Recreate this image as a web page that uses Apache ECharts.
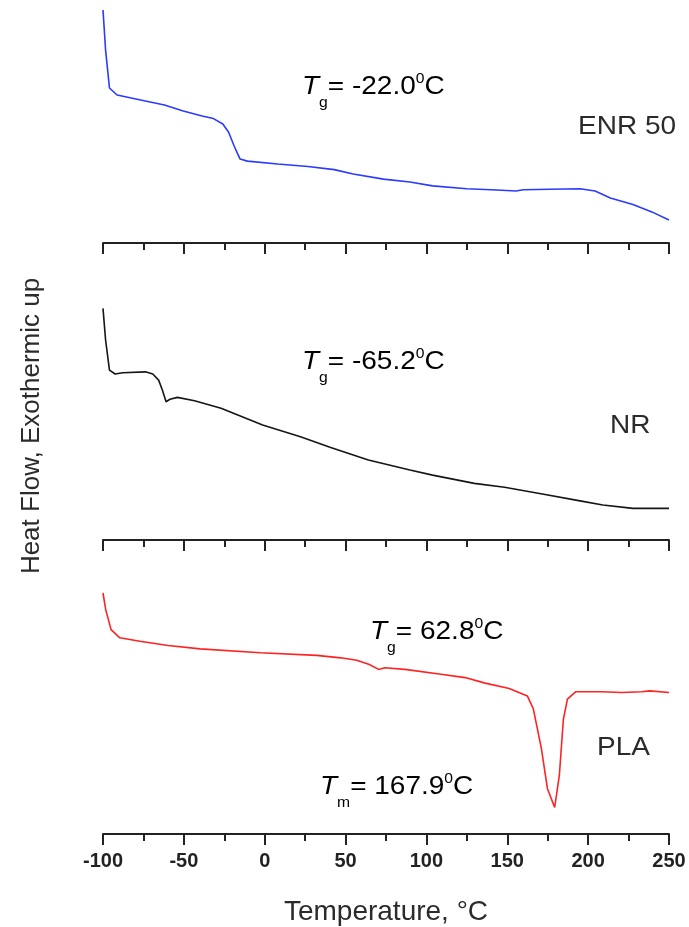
<!DOCTYPE html>
<html>
<head>
<meta charset="utf-8">
<script src="https://cdn.jsdelivr.net/npm/echarts@6/dist/echarts.min.js"></script>
<style>
html,body{margin:0;padding:0;background:#fff;}
#chart{width:689px;height:927px;}
</style>
</head>
<body>
<div id="chart"></div>
<script>
// Temperature (°C) and heat flow (arbitrary units, exothermic up) for each sample
const enrT = [-100, -98.4, -96, -91.3, -73.8, -62, -50.4, -38.7, -31.7, -25.9, -22.4, -18.9, -15.3, -10.7, 8, 26.7, 43, 54.7, 73.4, 89.8, 103.8, 124.9, 143.6, 155.3, 159.9, 176.3, 195, 204.3, 213.7, 227.7, 239.4, 250];
const enrHF = [95.9, 79.4, 63.8, 60.9, 58.4, 56.8, 54.3, 52.3, 51.2, 49.0, 45.7, 39.9, 34.6, 33.7, 32.5, 31.5, 30.2, 28.4, 26.3, 25.1, 23.5, 22.3, 21.8, 21.4, 21.9, 22.1, 22.3, 21.4, 18.5, 15.8, 12.8, 9.5];

const nrT = [-100, -98.4, -96, -92.5, -87.8, -73.8, -69.2, -65.6, -63.3, -61, -58.6, -54, -43.4, -27, -1.3, 22.1, 40.8, 64.1, 89.8, 103.8, 129.6, 148.3, 171.7, 195, 209.1, 227.7, 250];
const nrHF = [95.3, 82.3, 69.9, 68.3, 68.8, 69.2, 68.3, 65.8, 61.7, 56.9, 57.9, 58.7, 57.3, 54.2, 47.3, 42.5, 38.1, 32.9, 28.8, 26.7, 23.3, 21.7, 18.9, 16.1, 14.4, 13.0, 13.0];

const plaT = [-100, -98.3, -95, -89.6, -77.2, -59.8, -39.9, -2.7, 32.1, 47, 56.9, 64.3, 70.5, 74.3, 86.7, 109, 123.9, 136.3, 151.2, 162.4, 166.1, 171.1, 174.8, 179.3, 182.2, 184.7, 187.2, 192.2, 208.3, 220.7, 233.1, 238.1, 250];
const plaHF = [100, 93.0, 84.8, 81.4, 80.0, 78.2, 76.8, 75.2, 74.1, 73.1, 72.1, 70.4, 68.3, 69.0, 68.3, 66.3, 64.9, 62.6, 60.4, 57.3, 51.9, 35.4, 18.9, 11.0, 24.4, 47.7, 56.0, 59.0, 59.0, 58.7, 59.0, 59.4, 58.7];

const sampleNames = ['ENR 50', 'NR', 'PLA'];
const tgValues = ['-22.0', '-65.2', '62.8'];
const tmValue = '167.9';
const xMin = -100, xMax = 250, xStep = 50;
const xTitle = 'Temperature, °C';
const yTitle = 'Heat Flow, Exothermic up';

const zip = (a, b) => a.map((v, i) => [v, b[i]]);

const FONT = '"Liberation Sans", Arial, Helvetica, sans-serif';
const TXT = '#2b2b2b';
const AX = '#222';
const STRETCH = 1.12;

const chart = echarts.init(document.getElementById('chart'), null, {renderer: 'canvas'});

const grids = [
  {left: 103, right: 20, top: 0, height: 243},
  {left: 103, right: 20, top: 297, height: 243},
  {left: 103, right: 20, top: 593, height: 243}
];

function xAxisFor(i, showLabels) {
  const ax = {
    type: 'value', gridIndex: i, min: xMin, max: xMax, interval: xStep,
    axisLine: {show: true, onZero: false, lineStyle: {color: AX, width: 2}},
    axisTick: {show: true, length: 11, lineStyle: {color: AX, width: 2}},
    minorTick: {show: true, splitNumber: 2, length: 7, lineStyle: {color: AX, width: 2}},
    splitLine: {show: false},
    minorSplitLine: {show: false},
    axisLabel: {show: showLabels, margin: 17, fontFamily: FONT, fontSize: 20, fontWeight: 'bold', color: '#222'}
  };
  if (showLabels) {
    ax.name = xTitle;
    ax.nameLocation = 'middle';
    ax.nameGap = 64;
    ax.nameTextStyle = {fontFamily: FONT, fontSize: 28, color: TXT};
  }
  return ax;
}

function yAxisFor(i) {
  return {type: 'value', gridIndex: i, min: 0, max: 100, show: false};
}

function lineSeries(i, t, hf, color) {
  return {
    type: 'line', xAxisIndex: i, yAxisIndex: i, data: zip(t, hf),
    showSymbol: false, symbol: 'none', smooth: false, clip: false,
    lineStyle: {color: color, width: 1.6}, silent: true, animation: false
  };
}

const rich = {
  i: {fontFamily: FONT, fontSize: 25, fontStyle: 'italic', color: TXT, lineHeight: 47, verticalAlign: 'middle'},
  n: {fontFamily: FONT, fontSize: 25, color: TXT, lineHeight: 47, verticalAlign: 'middle'},
  sub: {fontFamily: FONT, fontSize: 14, color: TXT, lineHeight: 14, verticalAlign: 'bottom'},
  sup: {fontFamily: FONT, fontSize: 14, color: TXT, lineHeight: 14, verticalAlign: 'top', padding: [9, 0, 0, 0]}
};

function annot(x, y, sub, val) {
  return {
    type: 'text', x: x, y: y, scaleX: STRETCH, silent: true,
    style: {
      text: '{i|T}{sub|' + sub + '}{n|= ' + val + '}{sup|0}{n|C}',
      rich: rich, verticalAlign: 'middle', align: 'left'
    }
  };
}

function label(x, y, text) {
  return {
    type: 'text', x: x, y: y, scaleX: STRETCH, silent: true,
    style: {text: text, fontFamily: FONT, fontSize: 25, fill: TXT, verticalAlign: 'middle', align: 'left'}
  };
}

chart.setOption({
  animation: false,
  backgroundColor: '#fff',
  grid: grids,
  xAxis: [xAxisFor(0, false), xAxisFor(1, false), xAxisFor(2, true)],
  yAxis: [yAxisFor(0), yAxisFor(1), yAxisFor(2)],
  series: [
    lineSeries(0, enrT, enrHF, '#2a3aff'),
    lineSeries(1, nrT, nrHF, '#151515'),
    lineSeries(2, plaT, plaHF, '#ff2222')
  ],
  graphic: [
    annot(302, 87, 'g', tgValues[0]),
    label(578, 127, sampleNames[0]),
    annot(302, 362, 'g', tgValues[1]),
    label(610, 426, sampleNames[1]),
    annot(370, 632, 'g', tgValues[2]),
    label(597, 748, sampleNames[2]),
    annot(320, 787, 'm', tmValue),
    {
      type: 'text', x: 32, y: 426, rotation: Math.PI / 2, silent: true,
      style: {text: yTitle, fontFamily: FONT, fontSize: 26, fill: TXT, align: 'center', verticalAlign: 'middle'}
    }
  ]
});
</script>
</body>
</html>
